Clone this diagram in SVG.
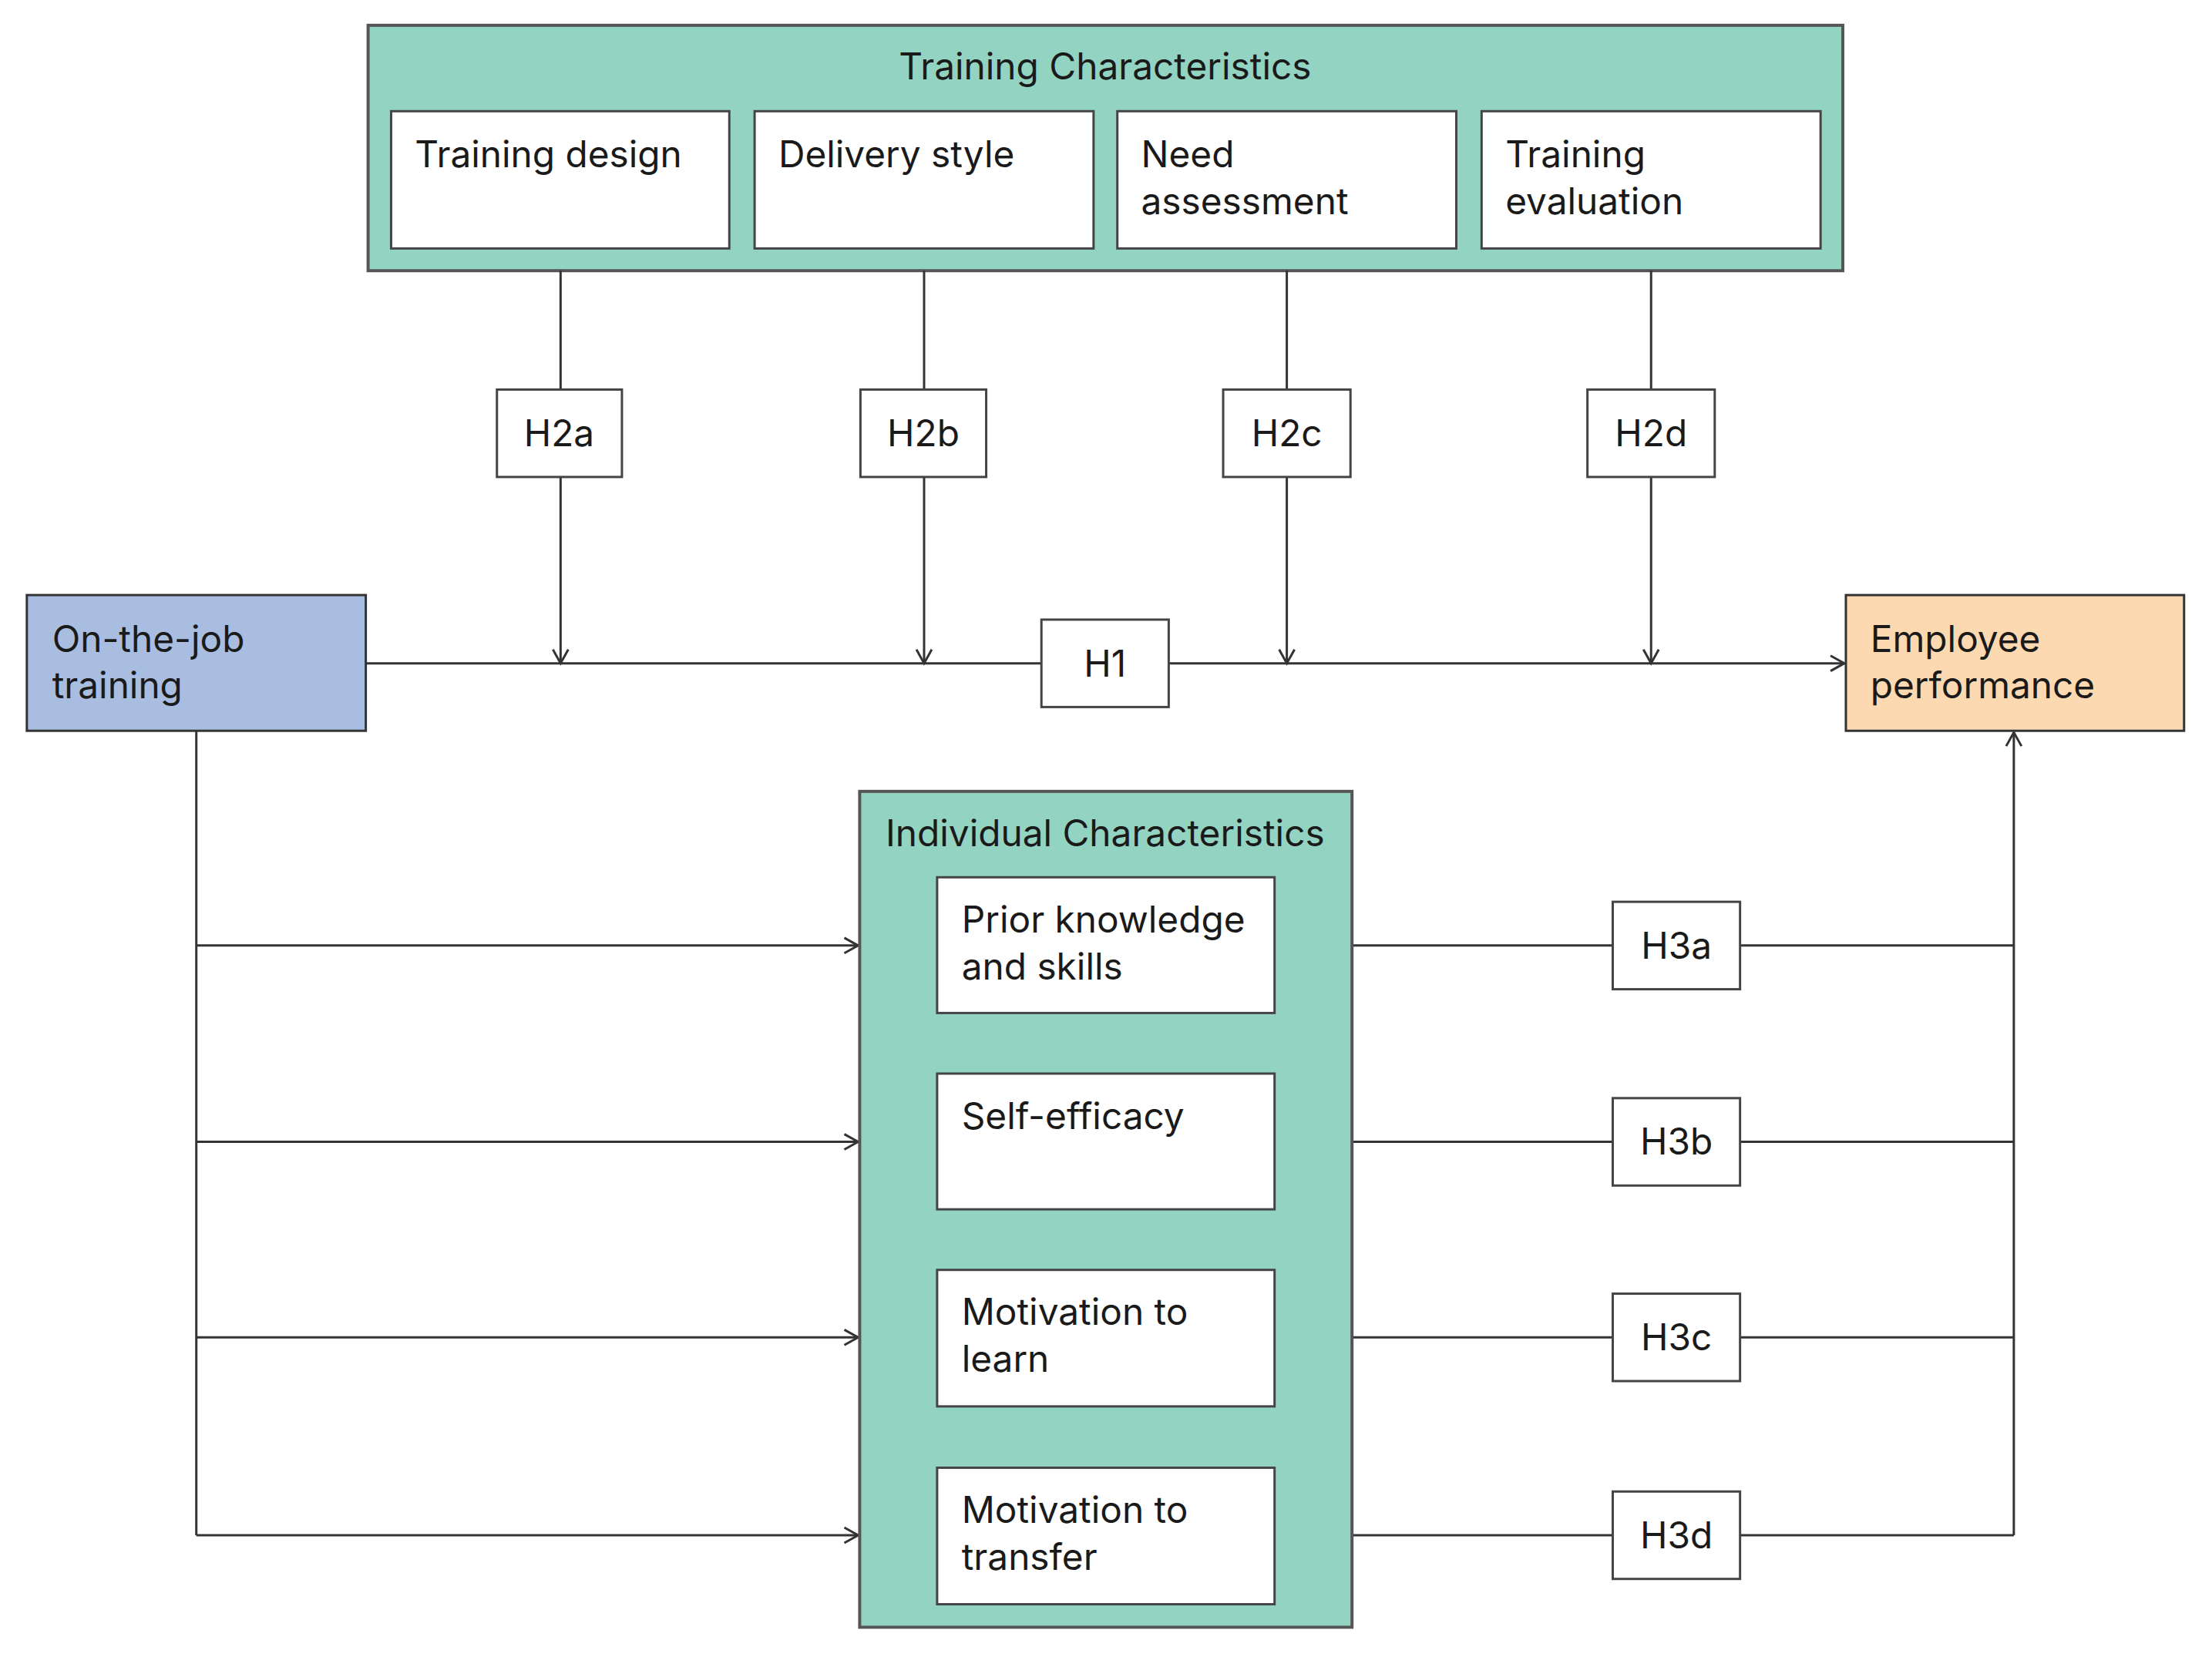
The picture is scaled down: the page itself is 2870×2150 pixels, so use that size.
<svg xmlns="http://www.w3.org/2000/svg" width="2870" height="2150" viewBox="0 0 2870 2150">
<style>
text{font-family:"Inter","Liberation Sans",sans-serif;font-size:48px;fill:#1a1a1a}
.grp{fill:#93d3c2;stroke:#555;stroke-width:4}
.box{fill:#fff;stroke:#444;stroke-width:3}
.c{text-anchor:middle}
.ln{stroke:#333;stroke-width:3;fill:none}
</style>
<defs><marker id="a" markerWidth="24" markerHeight="24" refX="20" refY="12" orient="auto" markerUnits="userSpaceOnUse"><path d="M2,2 L20,12 L2,22" fill="none" stroke="#333" stroke-width="3"/></marker></defs>
<rect width="2870" height="2150" fill="#fff"/>
<g transform="scale(0.995)">
<g id="training-characteristics">
<rect class="grp" x="480" y="33" width="1923" height="320"/>
<text class="c" x="1441" y="104">Training Characteristics</text>
<rect class="box" x="510" y="145" width="441" height="179"/><text x="541" y="218">Training design</text>
<rect class="box" x="984" y="145" width="442" height="179"/><text x="1015" y="218">Delivery style</text>
<rect class="box" x="1457" y="145" width="442" height="179"/><text x="1488" y="218">Need</text><text x="1488" y="279">assessment</text>
<rect class="box" x="1932" y="145" width="442" height="179"/><text x="1963" y="218">Training</text><text x="1963" y="279">evaluation</text>
</g>
<g id="connectors">
<line class="ln" x1="731" y1="353" x2="731" y2="865" marker-end="url(#a)"/>
<line class="ln" x1="1205" y1="353" x2="1205" y2="865" marker-end="url(#a)"/>
<line class="ln" x1="1678" y1="353" x2="1678" y2="865" marker-end="url(#a)"/>
<line class="ln" x1="2153" y1="353" x2="2153" y2="865" marker-end="url(#a)"/>
<line class="ln" x1="477" y1="865" x2="2405" y2="865" marker-end="url(#a)"/>
<path class="ln" d="M256,953 V2002"/>
<line class="ln" x1="256" y1="1233" x2="1119" y2="1233" marker-end="url(#a)"/>
<line class="ln" x1="256" y1="1489" x2="1119" y2="1489" marker-end="url(#a)"/>
<line class="ln" x1="256" y1="1744" x2="1119" y2="1744" marker-end="url(#a)"/>
<line class="ln" x1="256" y1="2002" x2="1119" y2="2002" marker-end="url(#a)"/>
<path class="ln" d="M1763,1233 H2626 M1763,1489 H2626 M1763,1744 H2626 M1763,2002 H2626"/>
<line class="ln" x1="2626" y1="2002" x2="2626" y2="955" marker-end="url(#a)"/>
</g>
<g id="h-labels">
<rect class="box" x="648" y="508" width="163" height="114"/><text class="c" x="729" y="582">H2a</text>
<rect class="box" x="1122" y="508" width="164" height="114"/><text class="c" x="1204" y="582">H2b</text>
<rect class="box" x="1595" y="508" width="166" height="114"/><text class="c" x="1678" y="582">H2c</text>
<rect class="box" x="2070" y="508" width="166" height="114"/><text class="c" x="2153" y="582">H2d</text>
<rect class="box" x="1358" y="808" width="166" height="114"/><text class="c" x="1441" y="882">H1</text>
<rect class="box" x="2103" y="1176" width="166" height="114"/><text class="c" x="2186" y="1250">H3a</text>
<rect class="box" x="2103" y="1432" width="166" height="114"/><text class="c" x="2186" y="1506">H3b</text>
<rect class="box" x="2103" y="1687" width="166" height="114"/><text class="c" x="2186" y="1761">H3c</text>
<rect class="box" x="2103" y="1945" width="166" height="114"/><text class="c" x="2186" y="2019">H3d</text>
</g>
<g id="on-the-job-training">
<rect x="35" y="776" width="442" height="177" fill="#a9bde0" stroke="#333" stroke-width="3"/>
<text x="68" y="850">On-the-job</text><text x="68" y="911">training</text>
</g>
<g id="employee-performance">
<rect x="2407" y="776" width="441" height="177" fill="#fcd9b0" stroke="#333" stroke-width="3"/>
<text x="2439" y="850">Employee</text><text x="2439" y="911">performance</text>
</g>
<g id="individual-characteristics">
<rect class="grp" x="1121" y="1032" width="642" height="1090"/>
<text class="c" x="1441" y="1104">Individual Characteristics</text>
<rect class="box" x="1222" y="1144" width="440" height="177"/><text x="1254" y="1216">Prior knowledge</text><text x="1254" y="1277">and skills</text>
<rect class="box" x="1222" y="1400" width="440" height="177"/><text x="1254" y="1472">Self-efficacy</text>
<rect class="box" x="1222" y="1656" width="440" height="178"/><text x="1254" y="1728">Motivation to</text><text x="1254" y="1789">learn</text>
<rect class="box" x="1222" y="1914" width="440" height="178"/><text x="1254" y="1986">Motivation to</text><text x="1254" y="2047">transfer</text>
</g>
</g>
</svg>
